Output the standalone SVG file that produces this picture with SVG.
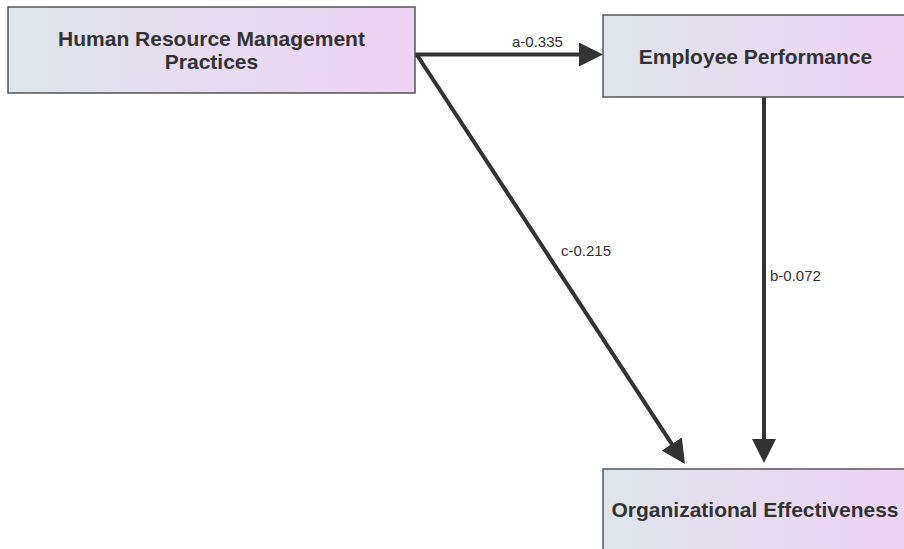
<svg xmlns="http://www.w3.org/2000/svg" width="904" height="549" viewBox="0 0 904 549">
  <style>
    .box { stroke: #555555; stroke-width: 1.5; fill: url(#g); }
    .lbl { font-family: "Liberation Sans", Arial, sans-serif; font-weight: bold; font-size: 21px; fill: #333333; text-anchor: middle; }
    .edge { stroke: #333333; stroke-width: 4; fill: none; }
    .elbl { font-family: "Liberation Sans", Arial, sans-serif; font-size: 15px; fill: #333333; }
  </style>
  <defs>
    <linearGradient id="g" x1="0" y1="0" x2="1" y2="0">
      <stop offset="0" stop-color="#dfe5ea"/>
      <stop offset="1" stop-color="#ecd4f3"/>
    </linearGradient>
    <marker id="arr" markerUnits="userSpaceOnUse" markerWidth="24" markerHeight="24" refX="4" refY="12" orient="auto" viewBox="0 0 24 24">
      <path d="M0,0 L24,12 L0,24 z" fill="#333333"/>
    </marker>
  </defs>
  <rect width="904" height="549" fill="#ffffff"/>
  <g id="connectors">
    <line class="edge" x1="415" y1="54.5" x2="583" y2="54.5" marker-end="url(#arr)"/>
    <line class="edge" x1="417" y1="55" x2="674" y2="447.3" marker-end="url(#arr)"/>
    <line class="edge" x1="764" y1="97" x2="764" y2="443" marker-end="url(#arr)"/>
    <text class="elbl" x="512" y="47">a-0.335</text>
    <text class="elbl" x="561" y="256">c-0.215</text>
    <text class="elbl" x="770" y="281">b-0.072</text>
  </g>
  <g id="hrm">
    <rect class="box" x="8" y="7" width="407" height="86"/>
    <text class="lbl" x="211.5" y="46">Human Resource Management</text>
    <text class="lbl" x="211.5" y="69">Practices</text>
  </g>
  <g id="ep">
    <rect class="box" x="603" y="15" width="305" height="82"/>
    <text class="lbl" x="755.5" y="64">Employee Performance</text>
  </g>
  <g id="oe">
    <rect class="box" x="603" y="469" width="305" height="82"/>
    <text class="lbl" x="755" y="517">Organizational Effectiveness</text>
  </g>
</svg>
